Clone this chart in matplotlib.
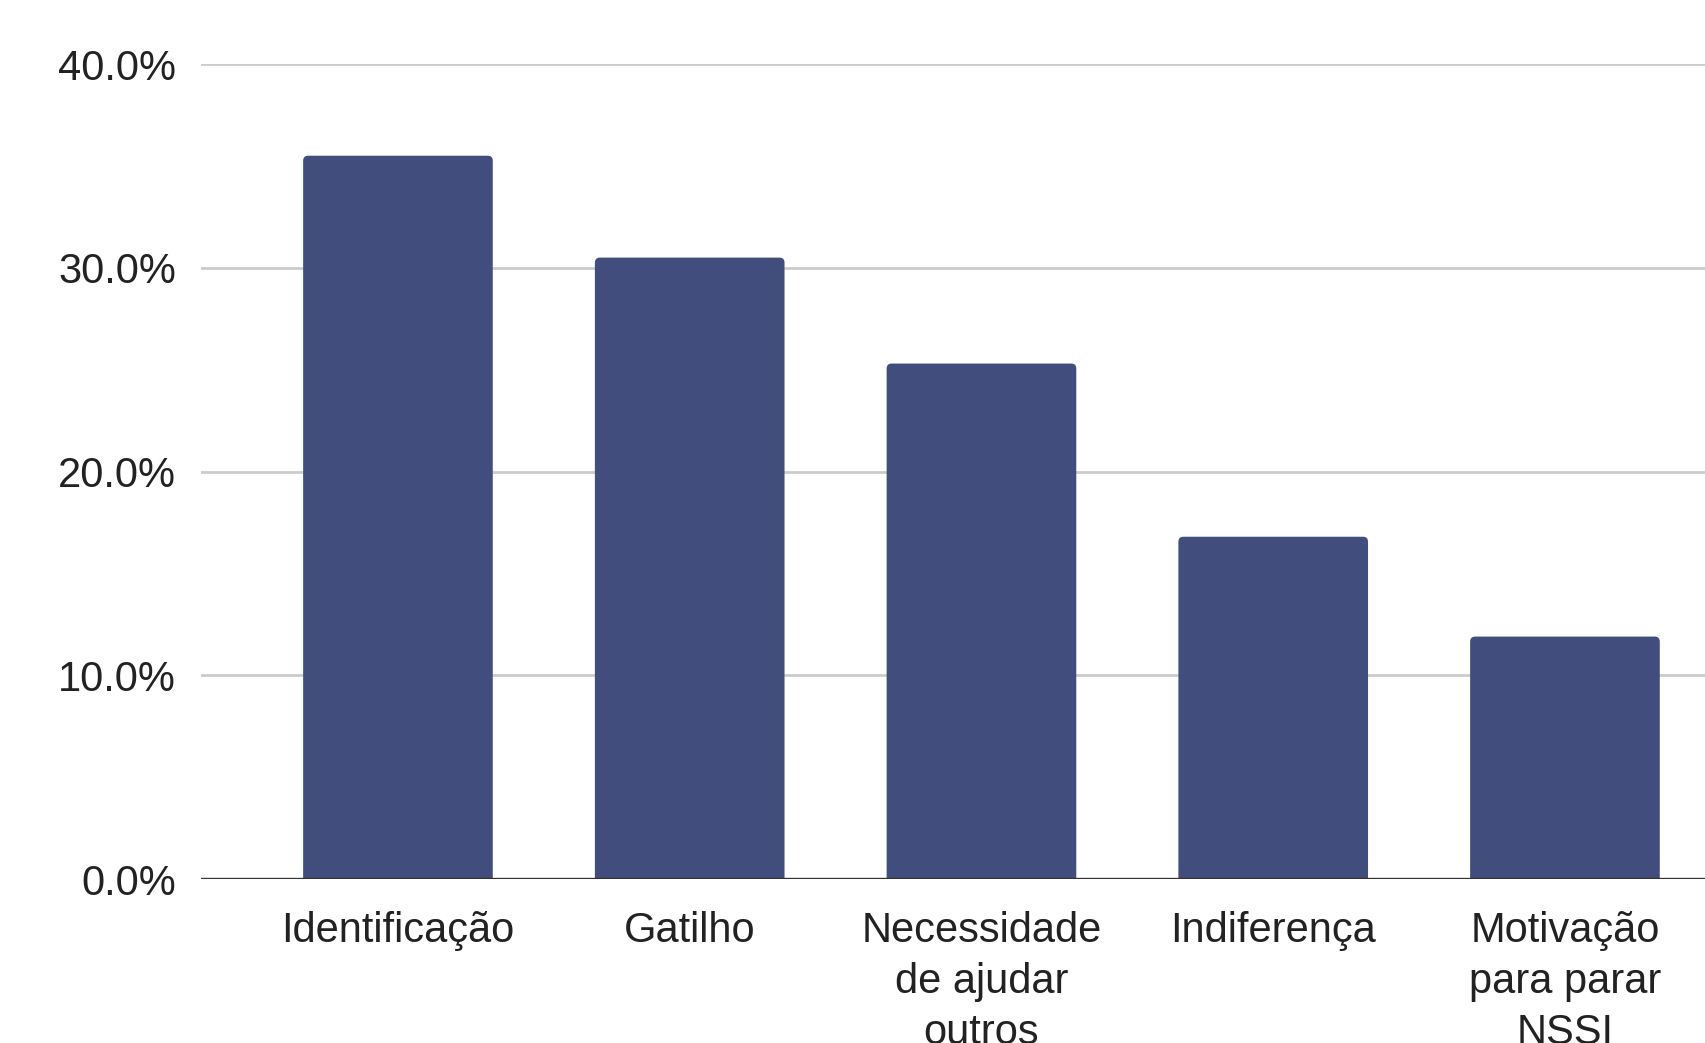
import matplotlib
matplotlib.use("Agg")
import matplotlib.pyplot as plt
from matplotlib.patches import FancyBboxPatch
from matplotlib.ticker import FuncFormatter

categories = ["Identificação", "Gatilho", "Necessidade\nde ajudar\noutros", "Indiferença", "Motivação\npara parar\nNSSI"]
values = [35.5, 30.5, 25.3, 16.8, 11.9]
yticks = [0, 10, 20, 30, 40]

plt.rcParams['font.family'] = ['Liberation Sans', 'DejaVu Sans']

fig = plt.figure(figsize=(17.05, 10.43), dpi=100)
ax = fig.add_axes([0.1179, 0.1572, 0.8821, 0.7814])

x = list(range(len(categories)))
xlim = (-0.675, 4.48)
ylim = (0, 40)
ax.set_xlim(*xlim)
ax.set_ylim(*ylim)

bars = ax.bar(x, values, width=0.65, color="#414d7c", zorder=3)
# rounded top corners
ax_w_px = fig.get_figwidth() * fig.dpi * 0.8821
ax_h_px = fig.get_figheight() * fig.dpi * 0.7814
xu = (xlim[1] - xlim[0]) / ax_w_px
yu = (ylim[1] - ylim[0]) / ax_h_px
r = 5 * xu
for b in bars:
    bx, by, bw, bh = b.get_x(), b.get_y(), b.get_width(), b.get_height()
    b.set_visible(False)
    p = FancyBboxPatch((bx, by - 1.0), bw, bh + 1.0,
                       boxstyle=f"round,pad=0,rounding_size={r}",
                       mutation_aspect=yu / xu,
                       facecolor="#414d7c", edgecolor="none", zorder=3)
    ax.add_patch(p)

ax.set_yticks(yticks)
ax.yaxis.set_major_formatter(FuncFormatter(lambda v, p: f"{v:.1f}%"))
ax.set_xticks(x)
ax.set_xticklabels(categories, linespacing=1.36)

ax.grid(axis='y', color="#cccccc", linewidth=2, zorder=0)
ax.axhline(0, color="#333333", linewidth=2.4, zorder=4)
for s in ax.spines.values():
    s.set_visible(False)
ax.tick_params(axis='both', length=0, labelsize=30, colors="#222222")
ax.tick_params(axis='y', pad=18)
ax.tick_params(axis='x', pad=23)

fig.savefig("out.png", dpi=100, facecolor="white")
